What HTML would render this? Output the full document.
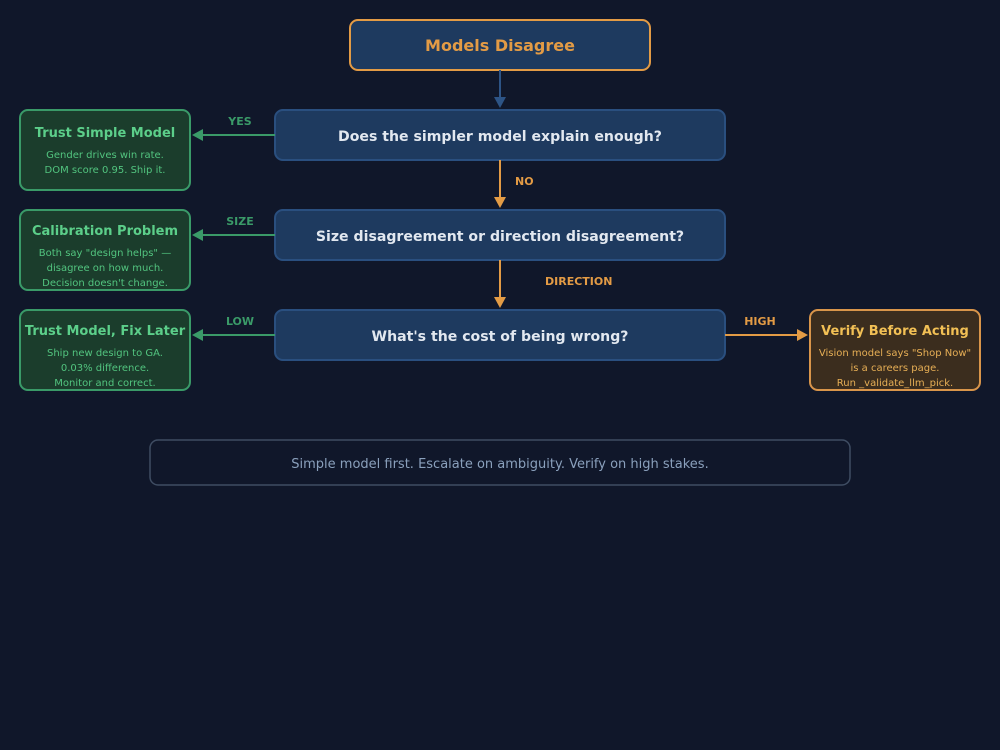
<!DOCTYPE html>
<html><head><meta charset="utf-8"><style>
html,body{margin:0;padding:0;background:#10172a;}
svg{display:block;font-family:"DejaVu Sans","Liberation Sans",sans-serif;}
</style></head><body>
<svg width="1000" height="750" viewBox="0 0 1000 750" xmlns="http://www.w3.org/2000/svg">
<rect width="1000" height="750" fill="#10172a"/>

<!-- Top node -->
<rect x="350" y="20" width="300" height="50" rx="8" fill="#1e3a5f" stroke="#e39b45" stroke-width="2"/>
<text x="500" y="51" text-anchor="middle" font-size="16" font-weight="bold" fill="#e39b45">Models Disagree</text>

<!-- arrow top -> Q1 -->
<line x1="500" y1="70" x2="500" y2="98" stroke="#2d5486" stroke-width="2"/>
<polygon points="494,97 506,97 500,108" fill="#2d5486"/>

<!-- Q1 -->
<rect x="275" y="110" width="450" height="50" rx="8" fill="#1e3a5f" stroke="#2a4f7f" stroke-width="2"/>
<text x="500" y="141" text-anchor="middle" font-size="14.1" font-weight="bold" fill="#e2e8f0">Does the simpler model explain enough?</text>

<!-- Q1 -> NO -> Q2 -->
<line x1="500" y1="160" x2="500" y2="198" stroke="#e39b45" stroke-width="2"/>
<polygon points="494,197 506,197 500,208" fill="#e39b45"/>
<text x="515" y="185" font-size="11" font-weight="bold" fill="#e39b45">NO</text>

<!-- Q2 -->
<rect x="275" y="210" width="450" height="50" rx="8" fill="#1e3a5f" stroke="#2a4f7f" stroke-width="2"/>
<text x="500" y="241" text-anchor="middle" font-size="14.1" font-weight="bold" fill="#e2e8f0">Size disagreement or direction disagreement?</text>

<!-- Q2 -> DIRECTION -> Q3 -->
<line x1="500" y1="260" x2="500" y2="298" stroke="#e39b45" stroke-width="2"/>
<polygon points="494,297 506,297 500,308" fill="#e39b45"/>
<text x="545" y="285" font-size="11" font-weight="bold" fill="#e39b45">DIRECTION</text>

<!-- Q3 -->
<rect x="275" y="310" width="450" height="50" rx="8" fill="#1e3a5f" stroke="#2a4f7f" stroke-width="2"/>
<text x="500" y="341" text-anchor="middle" font-size="14.1" font-weight="bold" fill="#e2e8f0">What's the cost of being wrong?</text>

<!-- left arrows -->
<line x1="275" y1="135" x2="202" y2="135" stroke="#3a9a68" stroke-width="2"/>
<polygon points="203,129 203,141 192,135" fill="#3a9a68"/>
<text x="240" y="125" text-anchor="middle" font-size="11" font-weight="bold" fill="#3a9a68">YES</text>

<line x1="275" y1="235" x2="202" y2="235" stroke="#3a9a68" stroke-width="2"/>
<polygon points="203,229 203,241 192,235" fill="#3a9a68"/>
<text x="240" y="225" text-anchor="middle" font-size="11" font-weight="bold" fill="#3a9a68">SIZE</text>

<line x1="275" y1="335" x2="202" y2="335" stroke="#3a9a68" stroke-width="2"/>
<polygon points="203,329 203,341 192,335" fill="#3a9a68"/>
<text x="240" y="325" text-anchor="middle" font-size="11" font-weight="bold" fill="#3a9a68">LOW</text>

<!-- right arrow -->
<line x1="725" y1="335" x2="798" y2="335" stroke="#e39b45" stroke-width="2"/>
<polygon points="797,329 797,341 808,335" fill="#e39b45"/>
<text x="760" y="325" text-anchor="middle" font-size="11" font-weight="bold" fill="#e39b45">HIGH</text>

<!-- green boxes -->
<rect x="20" y="110" width="170" height="80" rx="8" fill="#1b3d2c" stroke="#3a9a68" stroke-width="2"/>
<text x="105" y="137" text-anchor="middle" font-size="13" font-weight="bold" fill="#5ccf8a">Trust Simple Model</text>
<text x="105" y="158" text-anchor="middle" font-size="10" fill="#52c47f">Gender drives win rate.</text>
<text x="105" y="173" text-anchor="middle" font-size="10" fill="#52c47f">DOM score 0.95. Ship it.</text>

<rect x="20" y="210" width="170" height="80" rx="8" fill="#1b3d2c" stroke="#3a9a68" stroke-width="2"/>
<text x="105" y="235" text-anchor="middle" font-size="13" font-weight="bold" fill="#5ccf8a">Calibration Problem</text>
<text x="105" y="256" text-anchor="middle" font-size="10" fill="#52c47f">Both say "design helps" —</text>
<text x="105" y="271" text-anchor="middle" font-size="10" fill="#52c47f">disagree on how much.</text>
<text x="105" y="286" text-anchor="middle" font-size="10" fill="#52c47f">Decision doesn't change.</text>

<rect x="20" y="310" width="170" height="80" rx="8" fill="#1b3d2c" stroke="#3a9a68" stroke-width="2"/>
<text x="105" y="335" text-anchor="middle" font-size="13" font-weight="bold" fill="#5ccf8a">Trust Model, Fix Later</text>
<text x="105" y="356" text-anchor="middle" font-size="10" fill="#52c47f">Ship new design to GA.</text>
<text x="105" y="371" text-anchor="middle" font-size="10" fill="#52c47f">0.03% difference.</text>
<text x="105" y="386" text-anchor="middle" font-size="10" fill="#52c47f">Monitor and correct.</text>

<!-- orange box -->
<rect x="810" y="310" width="170" height="80" rx="8" fill="#3b2d1e" stroke="#d9954a" stroke-width="2"/>
<text x="895" y="335" text-anchor="middle" font-size="13" font-weight="bold" fill="#f2c055">Verify Before Acting</text>
<text x="895" y="356" text-anchor="middle" font-size="10" fill="#e6ae55">Vision model says "Shop Now"</text>
<text x="895" y="371" text-anchor="middle" font-size="10" fill="#e6ae55">is a careers page.</text>
<text x="895" y="386" text-anchor="middle" font-size="10" fill="#e6ae55">Run _validate_llm_pick.</text>

<!-- bottom note -->
<rect x="150" y="440" width="700" height="45" rx="8" fill="#10172a" stroke="#3f4d63" stroke-width="1.5"/>
<text x="500" y="468" text-anchor="middle" font-size="13" fill="#8aa0bc">Simple model first. Escalate on ambiguity. Verify on high stakes.</text>
</svg>
</body></html>
